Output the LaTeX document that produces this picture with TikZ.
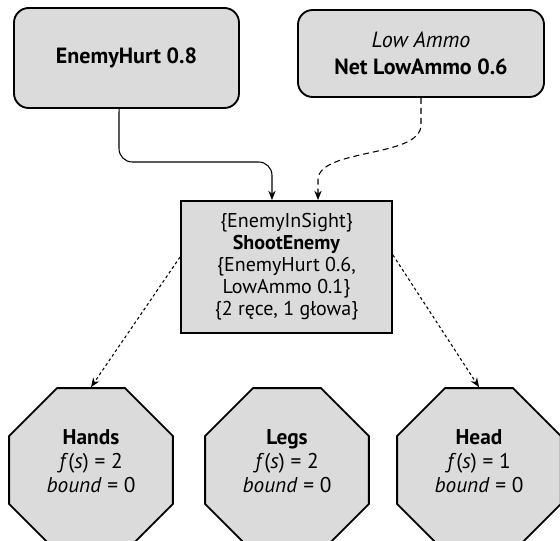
\documentclass[tikz,border=0pt]{standalone}
\usepackage{fontspec}
\setmainfont{PT Sans}
\usetikzlibrary{shapes.geometric,arrows.meta}
\begin{document}
\begin{tikzpicture}[x=0.75pt,y=-0.75pt,
  every node/.style={align=center},
  fillc/.style={fill=black!14},
  rbox/.style={draw, fillc, line width=1.4pt, rounded corners=11pt, inner sep=0pt, font=\fontsize{16.5}{20}\selectfont},
  sbox/.style={draw, fillc, line width=1.4pt, inner sep=0pt, font=\fontsize{15}{16.5}\selectfont},
  oct/.style={draw, fillc, line width=1.4pt, regular polygon, regular polygon sides=8, minimum size=133pt, inner sep=0pt},
  octtext/.style={font=\fontsize{16}{18}\selectfont, inner sep=0pt},
  conn/.style={line width=0.8pt, -{Stealth[length=7pt,width=5.5pt]}},
  dashc/.style={conn, dash pattern=on 4.5pt off 3pt},
  dotc/.style={conn, dash pattern=on 2.2pt off 2pt},
]
\useasboundingbox (0,0) rectangle (560,541);
\clip (0,0) rectangle (560,541);
\fill[white] (0,0) rectangle (560,541);

\node[rbox, minimum width=168.75pt, minimum height=75pt] (hurt) at (126.5,58) {\textbf{EnemyHurt 0.8}};
\node[rbox, minimum width=184.5pt, minimum height=65.25pt] (ammo) at (421,53.5) {\textit{Low Ammo}\\\textbf{Net LowAmmo 0.6}};
\node[sbox, minimum width=158.25pt, minimum height=99pt] (shoot) at (286.5,267) {\{EnemyInSight\}\\\textbf{ShootEnemy}\\\{EnemyHurt 0.6,\\LowAmmo 0.1\}\\\{2 ręce, 1 głowa\}};

\node[oct] (hands) at (91,470) {};
\node[oct] (legs) at (287,470) {};
\node[oct] (head) at (479,470) {};
\node[octtext] (handsT) at ([yshift=6.5pt]hands.center) {\textbf{Hands}\\\textit{f}(\textit{s}) = 2\\\textit{bound} = 0};
\node[octtext] (legsT) at ([yshift=6.5pt]legs.center) {\textbf{Legs}\\\textit{f}(\textit{s}) = 2\\\textit{bound} = 0};
\node[octtext] (headT) at ([yshift=6.5pt]head.center) {\textbf{Head}\\\textit{f}(\textit{s}) = 1\\\textit{bound} = 0};

\coordinate (bend1) at (119,162);
\coordinate (bend2) at (272,162);
\draw[conn, rounded corners=10pt] ([xshift=-5.6pt]hurt.south) -- (bend1) -- (bend2) -- ([xshift=-10.9pt]shoot.north);

\coordinate (d1) at (421,125);
\coordinate (d2) at (318,180);
\draw[dashc] (ammo.south) -- (d1) .. controls (421,158) and (318,148) .. (d2) -- ([xshift=23.6pt]shoot.north);

\draw[dotc] ([yshift=7.5pt]shoot.west) -- (hands.north);
\draw[dotc] ([yshift=9pt]shoot.east) -- (head.north);
\end{tikzpicture}
\end{document}
